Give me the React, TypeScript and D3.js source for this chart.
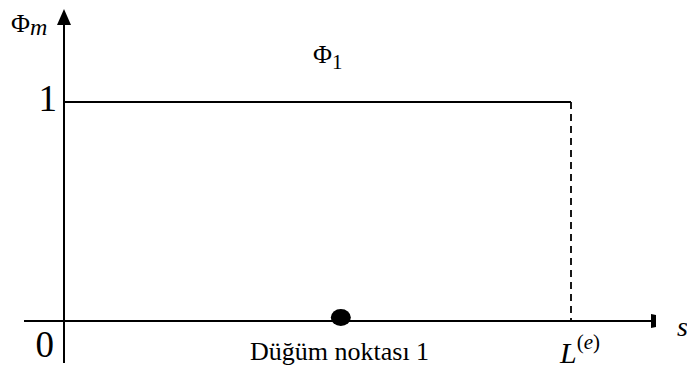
import React from "react";
import * as d3 from "d3";

// Element shape function Φ1 over one element of length L
const sDomain = [0, 1]; // s from 0 to L^(e)
const phiDomain = [0, 1];
const shapeValues = [
  { s: 0, phi: 1 },
  { s: 1, phi: 1 },
];
const nodePositions = [0.546];
const yTickLabels = ["0", "1"];

const W = 687;
const H = 369;

const serif = '"Liberation Serif", "DejaVu Serif", serif';

export default function App() {
  const x = d3.scaleLinear().domain(sDomain).range([64, 571]);
  const y = d3.scaleLinear().domain(phiDomain).range([321, 102]);

  const line = d3
    .line<{ s: number; phi: number }>()
    .x((d) => x(d.s))
    .y((d) => y(d.phi));

  const x0 = x(0);
  const y0 = y(0);
  const txt = { fontFamily: serif, fill: "#000" };

  return (
    <svg
      width={W}
      height={H}
      style={{ position: "absolute", left: 0, top: 0, background: "#fff" }}
    >
      <rect width={W} height={H} fill="#fff" />
      {/* vertical axis with arrow head */}
      <line x1={x0} y1={363} x2={x0} y2={22} stroke="#000" strokeWidth={2} />
      <path d={`M${x0},9 L${x0 - 7},25 L${x0 + 7},25 Z`} fill="#000" />
      {/* horizontal axis with end bar */}
      <line x1={24} y1={y0} x2={654} y2={y0} stroke="#000" strokeWidth={2} />
      <path d={`M651,314 L656,315 L656,327 L651,328 Z`} fill="#000" />

      {/* shape function level */}
      <path d={line(shapeValues) ?? ""} fill="none" stroke="#000" strokeWidth={1.8} />
      {/* dashed drop at s = L */}
      <line
        x1={x(1)}
        y1={y(1)}
        x2={x(1)}
        y2={y0}
        stroke="#000"
        strokeWidth={1.8}
        strokeDasharray="7,5"
      />

      {/* node */}
      {nodePositions.map((p, i) => (
        <ellipse key={i} cx={x(p)} cy={y0 - 3.5} rx={10} ry={8.5} fill="#000" />
      ))}

      {/* tick labels */}
      <text x={57} y={y(1) + 9} fontSize={37} textAnchor="end" style={txt}>
        {yTickLabels[1]}
      </text>
      <text x={54} y={357} fontSize={37} textAnchor="end" style={txt}>
        {yTickLabels[0]}
      </text>

      {/* axis titles */}
      <text x={11} y={32} fontSize={26} style={txt}>
        Φ
        <tspan fontStyle="italic" fontSize={24} dy={3}>m</tspan>
      </text>
      <text x={313} y={63} fontSize={26} style={txt}>
        Φ
        <tspan fontSize={21} dy={6}>1</tspan>
      </text>
      <text x={677} y={336} fontSize={28} fontStyle="italic" style={txt}>s</text>
      <text x={560} y={363} fontSize={30} fontStyle="italic" style={txt}>
        L
        <tspan fontStyle="normal" fontSize={21} dy={-14}>(</tspan>
        <tspan fontStyle="italic" fontSize={21}>e</tspan>
        <tspan fontStyle="normal" fontSize={21}>)</tspan>
      </text>
      <text x={250} y={360} fontSize={26} style={txt}>
        Düğüm noktası 1
      </text>
    </svg>
  );
}
